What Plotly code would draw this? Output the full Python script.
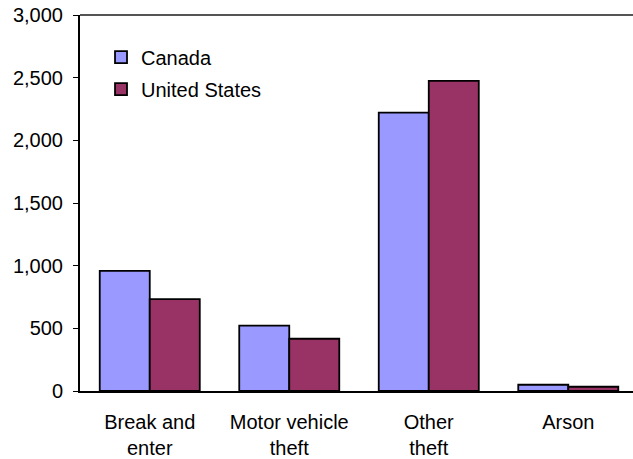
import plotly.graph_objects as go

categories = ["Break and<br>enter", "Motor vehicle<br>theft", "Other<br>theft", "Arson"]
canada = [959, 521, 2221, 50]
united_states = [733, 417, 2474, 34]
y_ticks = [0, 500, 1000, 1500, 2000, 2500, 3000]

fig = go.Figure()
fig.add_trace(go.Bar(x=categories, y=canada, name="Canada", legendgroup="a",
                     marker=dict(color="#9999FF", line=dict(color="black", width=1.8))))
fig.add_trace(go.Bar(x=categories, y=united_states, name="United States", legendgroup="b",
                     marker=dict(color="#993366", line=dict(color="black", width=1.8))))

font_family = "Liberation Sans, Arial, sans-serif"
fig.update_layout(
    width=633, height=459,
    margin=dict(l=80, r=0, t=15, b=68),
    plot_bgcolor="white", paper_bgcolor="white",
    barmode="group", bargap=0.283, bargroupgap=0,
    font=dict(family=font_family, size=20, color="black"),
    showlegend=True,
    legend=dict(x=0.038, y=0.94, xanchor="left", yanchor="top",
                bgcolor="rgba(0,0,0,0)", font=dict(size=20),
                itemwidth=30, traceorder="grouped", tracegroupgap=3),
    xaxis=dict(range=[-0.5, 3.464], showline=True, linecolor="black", linewidth=2,
               ticks="outside", ticklen=12, tickcolor="rgba(0,0,0,0)",
               showgrid=False, tickfont=dict(size=20)),
    yaxis=dict(range=[0, 3000], tickvals=y_ticks, tickformat=",", showline=True,
               linecolor="black", linewidth=2, ticks="outside", ticklen=5,
               tickcolor="black", showgrid=False, zeroline=False, tickfont=dict(size=20),
               ticklabelstandoff=6),
    shapes=[dict(type="line", xref="paper", yref="paper", x0=0, x1=1, y0=1, y1=1,
                 line=dict(color="#555555", width=2))],
)
fig.write_html("out.html", config={"displayModeBar": False},
               post_script="document.body.style.margin='0';")
